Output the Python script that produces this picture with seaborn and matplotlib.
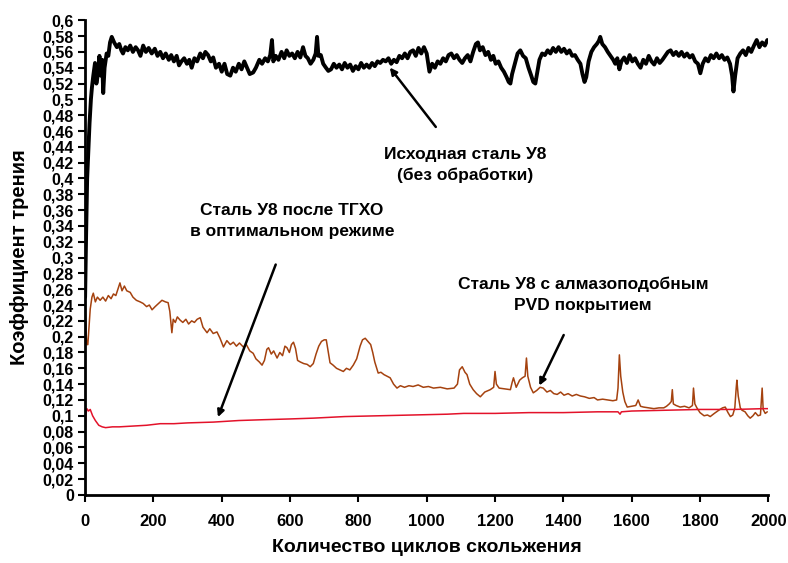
import numpy as np
import pandas as pd
import matplotlib
matplotlib.use("Agg")
import matplotlib.pyplot as plt
import seaborn as sns
from matplotlib.ticker import FuncFormatter, MultipleLocator

# Исходная сталь У8 (без обработки)
base_x = [0, 3, 6, 9, 13, 17, 20, 24, 29, 33, 38, 42, 46, 50, 53, 57, 63, 68, 73, 78,
          85, 93, 100, 106, 111, 118, 125, 132, 140, 148, 155, 162, 170, 178, 186, 195,
          204, 212, 220, 228, 236, 245, 252, 260, 268, 275, 282, 290, 298, 305, 312, 320,
          328, 337, 345, 352, 360, 368, 375, 383, 392, 400, 408, 416, 425, 433, 441, 450,
          458, 466, 474, 482, 492, 500, 510, 518, 527, 535, 542, 547, 551, 558, 566, 575,
          583, 590, 598, 606, 614, 622, 630, 638, 645, 652, 660, 668, 675, 679, 683, 690,
          697, 705, 712, 720, 728, 736, 744, 752, 760, 768, 776, 784, 792, 800, 808, 816,
          824, 832, 840, 848, 856, 864, 872, 880, 888, 896, 904, 912, 920, 928, 936, 944,
          952, 960, 968, 976, 984, 992, 1000, 1008, 1016, 1024, 1032, 1040, 1048, 1056,
          1064, 1072, 1080, 1088, 1096, 1104, 1112, 1120, 1128, 1136, 1144, 1150, 1156,
          1164, 1172, 1180, 1188, 1195, 1202, 1210, 1218, 1226, 1234, 1240, 1245, 1250,
          1258, 1266, 1274, 1282, 1290, 1298, 1306, 1312, 1318, 1324, 1330, 1338, 1346,
          1354, 1362, 1370, 1378, 1386, 1394, 1402, 1410, 1418, 1426, 1434, 1442, 1450,
          1456, 1462, 1467, 1474, 1482, 1490, 1498, 1504, 1508, 1514, 1522, 1530, 1538,
          1546, 1552, 1558, 1564, 1570, 1578, 1586, 1594, 1602, 1610, 1618, 1626, 1634,
          1642, 1650, 1658, 1666, 1674, 1682, 1690, 1698, 1706, 1714, 1722, 1730, 1738,
          1746, 1754, 1762, 1770, 1778, 1786, 1794, 1801, 1808, 1816, 1824, 1832, 1840,
          1848, 1856, 1864, 1872, 1880, 1888, 1894, 1898, 1903, 1910, 1918, 1926, 1934,
          1942, 1950, 1958, 1966, 1974, 1982, 1990, 1997]
base_y = [0.25, 0.33, 0.40, 0.43, 0.47, 0.50, 0.515, 0.53, 0.546, 0.52, 0.533, 0.555, 0.53,
          0.55, 0.508, 0.54, 0.558, 0.555, 0.572, 0.579, 0.572, 0.566, 0.570, 0.562, 0.558,
          0.566, 0.562, 0.568, 0.560, 0.566, 0.562, 0.555, 0.568, 0.560, 0.565, 0.558,
          0.564, 0.555, 0.560, 0.552, 0.558, 0.550, 0.556, 0.548, 0.555, 0.543, 0.548,
          0.552, 0.545, 0.550, 0.540, 0.552, 0.548, 0.558, 0.552, 0.560, 0.556, 0.548,
          0.553, 0.540, 0.545, 0.535, 0.545, 0.532, 0.530, 0.540, 0.535, 0.545, 0.538,
          0.548, 0.540, 0.532, 0.534, 0.540, 0.550, 0.545, 0.552, 0.548, 0.556, 0.575,
          0.548, 0.555, 0.550, 0.560, 0.552, 0.562, 0.555, 0.558, 0.552, 0.560, 0.553,
          0.566, 0.555, 0.552, 0.545, 0.550, 0.558, 0.579, 0.555, 0.556, 0.545, 0.540,
          0.536, 0.538, 0.545, 0.540, 0.544, 0.538, 0.546, 0.540, 0.544, 0.536, 0.542,
          0.538, 0.546, 0.540, 0.544, 0.540, 0.546, 0.542, 0.548, 0.546, 0.550, 0.548,
          0.552, 0.545, 0.550, 0.547, 0.555, 0.552, 0.558, 0.552, 0.560, 0.562, 0.555,
          0.565, 0.558, 0.566, 0.558, 0.535, 0.545, 0.540, 0.548, 0.545, 0.552, 0.548,
          0.556, 0.558, 0.552, 0.556, 0.550, 0.546, 0.552, 0.556, 0.548, 0.560, 0.570,
          0.572, 0.562, 0.566, 0.556, 0.560, 0.550, 0.555, 0.545, 0.548, 0.540, 0.535,
          0.528, 0.522, 0.520, 0.532, 0.545, 0.558, 0.562, 0.555, 0.552, 0.540, 0.530,
          0.522, 0.520, 0.535, 0.550, 0.558, 0.556, 0.562, 0.558, 0.565, 0.560, 0.566,
          0.560, 0.564, 0.558, 0.562, 0.555, 0.556, 0.550, 0.545, 0.532, 0.522, 0.528,
          0.548, 0.560, 0.566, 0.570, 0.574, 0.579, 0.570, 0.566, 0.560, 0.555, 0.550,
          0.545, 0.552, 0.538, 0.548, 0.553, 0.546, 0.556, 0.548, 0.552, 0.545, 0.540,
          0.550, 0.545, 0.555, 0.548, 0.544, 0.552, 0.546, 0.550, 0.555, 0.560, 0.562,
          0.556, 0.560, 0.555, 0.560, 0.554, 0.558, 0.553, 0.556, 0.548, 0.545, 0.533,
          0.545, 0.552, 0.548, 0.556, 0.552, 0.558, 0.552, 0.556, 0.550, 0.553, 0.545,
          0.530, 0.510, 0.530, 0.552, 0.558, 0.562, 0.556, 0.565, 0.560, 0.568, 0.575,
          0.566, 0.572, 0.568, 0.575]

# Сталь У8 с алмазоподобным PVD покрытием
pvd_x = [0, 3, 5, 8, 11, 15, 20, 24, 30, 36, 44, 52, 60, 68, 76, 83, 90, 96, 102, 108,
         115, 122, 132, 140, 150, 161, 170, 180, 188, 196, 205, 215, 225, 235, 243, 248,
         254, 258, 264, 270, 278, 286, 295, 303, 312, 320, 328, 337, 345, 352, 357, 365,
         375, 386, 395, 405, 415, 425, 434, 443, 452, 463, 472, 482, 492, 500, 510, 518,
         525, 532, 537, 545, 552, 562, 570, 578, 585, 591, 598, 604, 610, 616, 622, 630,
         640, 650, 659, 668, 676, 684, 692, 700, 706, 712, 717, 726, 736, 746, 756, 765,
         775, 785, 795, 805, 812, 820, 828, 836, 842, 848, 858, 866, 875, 884, 893, 903,
         913, 923, 935, 948, 960, 975, 990, 1005, 1020, 1040, 1060, 1080, 1090, 1096,
         1104, 1112, 1118, 1126, 1136, 1146, 1157, 1170, 1186, 1196, 1200, 1204, 1212,
         1228, 1245, 1250, 1254, 1262, 1272, 1280, 1288, 1292, 1296, 1304, 1312, 1322,
         1332, 1341, 1352, 1362, 1372, 1382, 1392, 1402, 1414, 1426, 1438, 1450, 1462,
         1476, 1490, 1500, 1515, 1530, 1545, 1556, 1560, 1564, 1568, 1574, 1580, 1587,
         1600, 1612, 1619, 1626, 1635, 1650, 1665, 1680, 1694, 1702, 1710, 1716, 1719,
         1722, 1730, 1742, 1755, 1768, 1778, 1781, 1785, 1791, 1800, 1812, 1822, 1830,
         1842, 1855, 1866, 1874, 1882, 1889, 1896, 1902, 1906, 1908, 1912, 1918, 1923,
         1932, 1940, 1947, 1955, 1962, 1970, 1977, 1982, 1985, 1991, 1997]
pvd_y = [0.234, 0.205, 0.19, 0.19, 0.21, 0.235, 0.25, 0.255, 0.244, 0.25, 0.246, 0.25,
         0.245, 0.252, 0.248, 0.254, 0.252, 0.26, 0.268, 0.258, 0.264, 0.258, 0.256, 0.25,
         0.246, 0.244, 0.242, 0.238, 0.240, 0.234, 0.238, 0.242, 0.246, 0.244, 0.243,
         0.232, 0.205, 0.222, 0.218, 0.225, 0.221, 0.218, 0.222, 0.216, 0.22, 0.218, 0.222,
         0.224, 0.212, 0.208, 0.205, 0.21, 0.204, 0.206, 0.198, 0.187, 0.195, 0.19, 0.193,
         0.188, 0.192, 0.187, 0.19, 0.182, 0.179, 0.172, 0.168, 0.164, 0.17, 0.184, 0.186,
         0.178, 0.182, 0.173, 0.18, 0.176, 0.188, 0.186, 0.18, 0.19, 0.193, 0.185, 0.17,
         0.168, 0.166, 0.165, 0.162, 0.166, 0.178, 0.188, 0.194, 0.196, 0.196, 0.18, 0.167,
         0.164, 0.16, 0.158, 0.156, 0.16, 0.158, 0.164, 0.172, 0.188, 0.196, 0.198, 0.194,
         0.19, 0.18, 0.168, 0.154, 0.155, 0.152, 0.15, 0.148, 0.14, 0.135, 0.138, 0.136,
         0.138, 0.137, 0.139, 0.136, 0.137, 0.135, 0.136, 0.134, 0.135, 0.14, 0.158, 0.162,
         0.155, 0.152, 0.14, 0.133, 0.128, 0.124, 0.13, 0.133, 0.136, 0.156, 0.14, 0.135,
         0.134, 0.133, 0.142, 0.148, 0.136, 0.145, 0.148, 0.15, 0.173, 0.15, 0.136, 0.129,
         0.132, 0.136, 0.135, 0.13, 0.132, 0.128, 0.127, 0.13, 0.126, 0.128, 0.125, 0.127,
         0.125, 0.124, 0.122, 0.123, 0.12, 0.121, 0.12, 0.119, 0.12, 0.135, 0.177, 0.15,
         0.13, 0.118, 0.111, 0.112, 0.113, 0.12, 0.112, 0.111, 0.11, 0.109, 0.11, 0.11,
         0.112, 0.115, 0.118, 0.133, 0.115, 0.113, 0.111, 0.112, 0.11, 0.113, 0.135, 0.115,
         0.11, 0.104, 0.1, 0.101, 0.099, 0.103, 0.107, 0.11, 0.111, 0.104, 0.099, 0.101,
         0.11, 0.135, 0.145, 0.125, 0.11, 0.107, 0.105, 0.1, 0.097, 0.1, 0.104, 0.1, 0.101,
         0.135, 0.108, 0.103, 0.105]

# Сталь У8 после ТГХО в оптимальном режиме
tgho_x = [0, 2, 5, 10, 15, 22, 30, 40, 50, 60, 80, 100, 140, 180, 220, 260, 300, 375,
          450, 520, 600, 668, 760, 860, 960, 1060, 1108, 1200, 1300, 1400, 1500, 1560,
          1566, 1570, 1600, 1700, 1800, 1900, 1986, 2000]
tgho_y = [0.078, 0.1, 0.109, 0.106, 0.108, 0.1, 0.094, 0.088, 0.086, 0.085, 0.086, 0.086,
          0.087, 0.088, 0.09, 0.09, 0.091, 0.092, 0.094, 0.095, 0.096, 0.097, 0.099, 0.1,
          0.101, 0.102, 0.103, 0.103, 0.104, 0.104, 0.105, 0.105, 0.102, 0.105, 0.106,
          0.107, 0.108, 0.108, 0.109, 0.109]

x_ticks = [0, 200, 400, 600, 800, 1000, 1200, 1400, 1600, 1800, 2000]

sns.set_style("ticks")
plt.rcParams["font.family"] = ["Liberation Sans", "DejaVu Sans"]
plt.rcParams["font.weight"] = "bold"
plt.rcParams["text.color"] = "black"
plt.rcParams["axes.labelcolor"] = "black"
plt.rcParams["xtick.color"] = "black"
plt.rcParams["ytick.color"] = "black"

fig = plt.figure(figsize=(7.88, 5.63), dpi=100)
ax = fig.add_axes([0.108, 0.121, 0.867, 0.843])

sns.lineplot(x=pvd_x, y=pvd_y, ax=ax, color="#a5420f", lw=1.1, sort=False)
sns.lineplot(x=tgho_x, y=tgho_y, ax=ax, color="#e3122a", lw=1.1, sort=False)
sns.lineplot(x=base_x, y=base_y, ax=ax, color="black", lw=2.8, sort=False)

ax.set_xlim(0, 2000)
ax.set_ylim(0, 0.6)
ax.set_xticks(x_ticks)
ax.yaxis.set_major_locator(MultipleLocator(0.02))
ax.yaxis.set_major_formatter(FuncFormatter(
    lambda v, p: "0" if abs(v) < 1e-9 else f"{v:.2f}".rstrip("0").replace(".", ",")))
ax.tick_params(axis="both", direction="out", length=5, width=1.5)
ax.tick_params(axis="x", labelsize=12, pad=9)
ax.tick_params(axis="y", labelsize=11.5, pad=3)
for lab in ax.get_xticklabels() + ax.get_yticklabels():
    lab.set_fontweight("bold")

for side in ["left", "bottom"]:
    ax.spines[side].set_linewidth(2)
    ax.spines[side].set_color("black")
sns.despine(ax=ax)

ax.set_xlabel("Количество циклов скольжения", fontsize=14, fontweight="bold", labelpad=7)
ax.set_ylabel("Коэффициент трения", fontsize=14.5, fontweight="bold", labelpad=10)

arrow = dict(arrowstyle="-|>", color="black", lw=1.8, mutation_scale=10)
ax.annotate("Исходная сталь У8\n(без обработки)", xy=(887, 0.543), xytext=(1113, 0.417),
            ha="center", va="center", fontsize=12.5, fontweight="bold",
            arrowprops=dict(arrow, shrinkA=15), linespacing=1.5)
ax.annotate("Сталь У8 после ТГХО\nв оптимальном режиме", xy=(386, 0.095), xytext=(606, 0.346),
            ha="center", va="center", fontsize=12.5, fontweight="bold",
            arrowprops=dict(arrow, shrinkA=17), linespacing=1.5)
ax.annotate("Сталь У8 с алмазоподобным\nPVD покрытием", xy=(1326, 0.135), xytext=(1458, 0.253),
            ha="center", va="center", fontsize=12.5, fontweight="bold",
            arrowprops=dict(arrow, shrinkA=15), linespacing=1.5)

fig.savefig("out.png", dpi=100)
